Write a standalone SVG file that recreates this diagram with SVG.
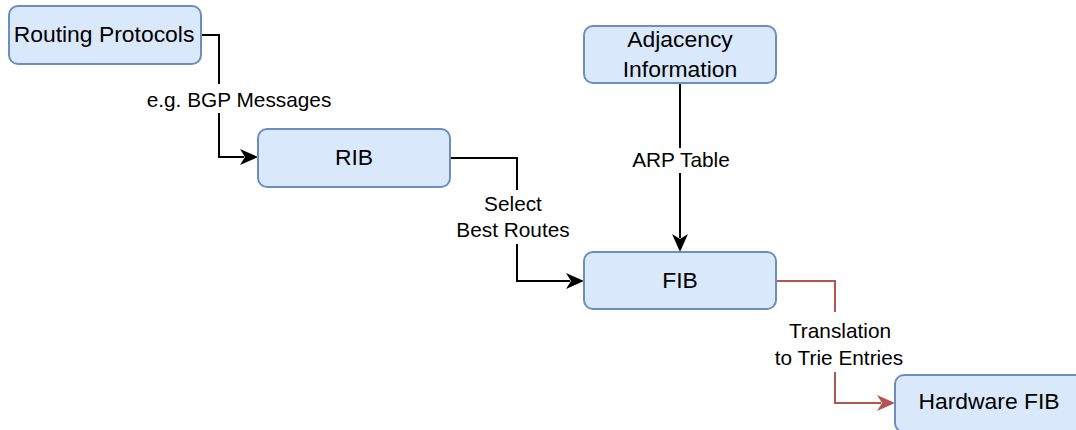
<svg xmlns="http://www.w3.org/2000/svg" width="1076" height="430" viewBox="0 0 1076 430">
<style>
.box{fill:#dae8fc;stroke:#6c8ebf;stroke-width:2}
.nt{font-family:"Liberation Sans",Arial,sans-serif;font-size:22.9px;fill:#000;text-anchor:middle}
.et{font-family:"Liberation Sans",Arial,sans-serif;font-size:20.8px;fill:#000;text-anchor:middle}
.ln{fill:none;stroke:#000;stroke-width:2}
.red{fill:none;stroke:#b85450;stroke-width:2}
.bg{fill:#fff}
</style>
<rect width="1076" height="430" fill="#fff"/>
<g id="connectors">
  <path class="ln" d="M201 35 H219 V157 H244"/>
  <path d="M258 157 L240 149 L245 157 L240 165 Z" fill="#000"/>
  <rect class="bg" x="145" y="84" width="189" height="29"/>
  <text class="et" x="239" y="107">e.g. BGP Messages</text>

  <path class="ln" d="M450 158 H517 V281 H570"/>
  <path d="M584 281 L566 273 L571 281 L566 289 Z" fill="#000"/>
  <rect class="bg" x="454" y="190" width="117" height="54"/>
  <text class="et" x="513" y="211">Select</text>
  <text class="et" x="513" y="237">Best Routes</text>

  <path class="ln" d="M680 83 V238"/>
  <path d="M680 252 L672 234 L680 239 L688 234 Z" fill="#000"/>
  <rect class="bg" x="630" y="148" width="102" height="25"/>
  <text class="et" x="681" y="167">ARP Table</text>

  <path class="red" d="M776 281 H835 V403 H881"/>
  <path d="M895 403 L877 395 L882 403 L877 411 Z" fill="#b85450"/>
  <rect class="bg" x="773" y="312" width="132" height="60"/>
  <text class="et" x="840" y="338">Translation</text>
  <text class="et" x="839" y="365">to Trie Entries</text>
</g>
<g id="routing-protocols">
  <rect class="box" x="9" y="6" width="192" height="58" rx="9"/>
  <text class="nt" x="104" y="42">Routing Protocols</text>
</g>
<g id="rib">
  <rect class="box" x="258" y="129" width="192" height="58" rx="9"/>
  <text class="nt" x="354" y="165">RIB</text>
</g>
<g id="adjacency">
  <rect class="box" x="584" y="26" width="192" height="57" rx="9"/>
  <text class="nt" x="680" y="47">Adjacency</text>
  <text class="nt" x="680" y="77">Information</text>
</g>
<g id="fib">
  <rect class="box" x="584" y="252" width="192" height="57" rx="9"/>
  <text class="nt" x="680" y="288">FIB</text>
</g>
<g id="hardware-fib">
  <rect class="box" x="895" y="375" width="192" height="57" rx="9"/>
  <text class="nt" x="989" y="409">Hardware FIB</text>
</g>
</svg>
